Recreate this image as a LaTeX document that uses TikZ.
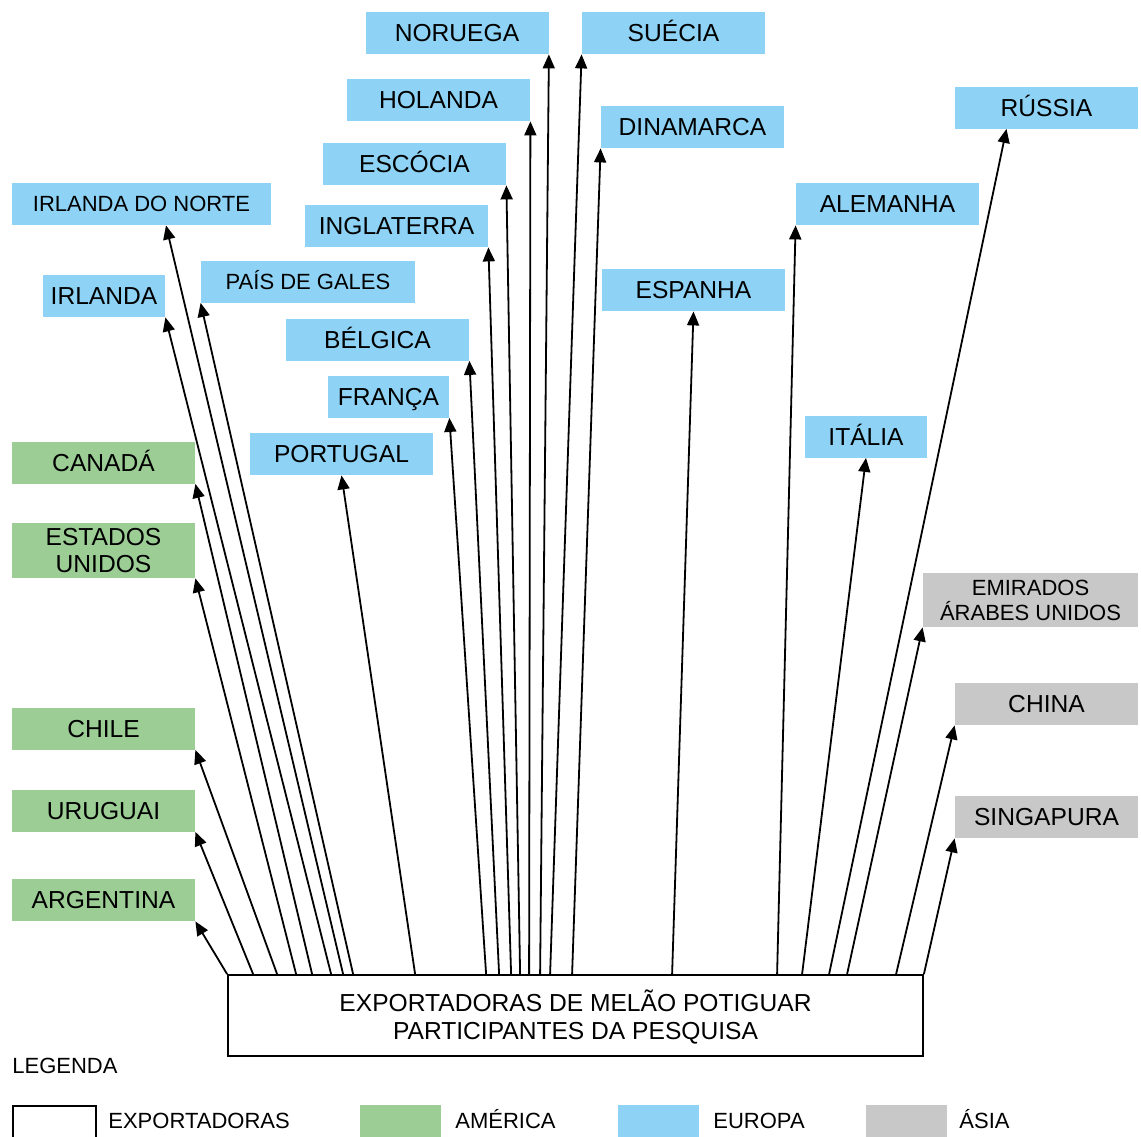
\documentclass[tikz,border=0pt]{standalone}
\usepackage{fontspec}
\setmainfont{Liberation Sans}
\usetikzlibrary{arrows.meta,calc}
\definecolor{america}{RGB}{155,205,149}
\definecolor{europa}{RGB}{142,211,245}
\definecolor{asia}{RGB}{200,200,200}
\tikzset{
  pais/.style={inner sep=0pt, minimum width=91.5pt, minimum height=21pt,
    font=\fontsize{12.3}{13.5}\selectfont, text height=8.8pt, text depth=0pt},
  ame/.style={pais, fill=america},
  eur/.style={pais, fill=europa},
  asi/.style={pais, fill=asia},
  menor/.style={font=\fontsize{11}{12.5}\selectfont, text height=7.9pt},
  duas/.style={align=center, text height={}, text depth={}},
  seta/.style={-{Triangle[length=7pt,width=6pt]}, line width=0.9pt},
  legtxt/.style={anchor=west, inner sep=0pt, font=\fontsize{11}{12}\selectfont,
    text height=7.9pt, text depth=0pt},
  legcor/.style={anchor=north west, minimum width=40.5pt, minimum height=22pt, inner sep=0pt},
}
\begin{document}
\begin{tikzpicture}[x=0.5pt,y=-0.5pt]
\useasboundingbox (0,0) rectangle (1141,1136);
% Europa
\node[eur] (nor) at (457,33) {NORUEGA};
\node[eur] (sue) at (673.5,33) {SUÉCIA};
\node[eur] (hol) at (438.5,100) {HOLANDA};
\node[eur] (din) at (692.5,127) {DINAMARCA};
\node[eur] (rus) at (1046.5,107.5) {RÚSSIA};
\node[eur] (esc) at (414.5,164) {ESCÓCIA};
\node[eur,menor,minimum width=129.5pt] (idn) at (141.5,204) {IRLANDA DO NORTE};
\node[eur] (ing) at (396.5,226) {INGLATERRA};
\node[eur] (ale) at (887.5,204) {ALEMANHA};
\node[eur,minimum width=61pt] (irl) at (104,296) {IRLANDA};
\node[eur,menor,minimum width=107pt] (pdg) at (308,281.5) {PAÍS DE GALES};
\node[eur] (esp) at (693.5,290) {ESPANHA};
\node[eur] (bel) at (377.5,339.5) {BÉLGICA};
\node[eur,minimum width=60.5pt] (fra) at (388.5,396.5) {FRANÇA};
\node[eur] (por) at (341.5,454) {PORTUGAL};
\node[eur,minimum width=61pt] (ita) at (866,436.5) {ITÁLIA};
% America
\node[ame] (can) at (103.5,462.5) {CANADÁ};
\node[ame,duas,minimum height=27.5pt] (eua) at (103.5,550.5) {ESTADOS\\UNIDOS};
\node[ame] (chi) at (103.5,728.5) {CHILE};
\node[ame] (uru) at (103.5,810.5) {URUGUAI};
\node[ame] (arg) at (103.5,900) {ARGENTINA};
% Asia
\node[asi,menor,duas,minimum width=107.5pt,minimum height=27pt] (emi) at (1030.5,600) {EMIRADOS\\ÁRABES UNIDOS};
\node[asi] (chn) at (1046.5,704) {CHINA};
\node[asi] (sin) at (1046.5,817) {SINGAPURA};
%
\node[draw,line width=0.9pt,minimum width=347.5pt,minimum height=40.5pt,align=center,
  font=\fontsize{12.3}{14}\selectfont] (base) at (575.5,1015.5)
  {\rule{0pt}{12.8pt}EXPORTADORAS DE MELÃO POTIGUAR\\PARTICIPANTES DA PESQUISA};
%
\draw[seta] ($(base.north west)+(0,0)$) -- (arg.south east);
\draw[seta] ($(base.north west)+(26,0)$) -- (uru.south east);
\draw[seta] ($(base.north west)+(50,0)$) -- (chi.south east);
\draw[seta] ($(base.north west)+(69,0)$) -- (eua.south east);
\draw[seta] ($(base.north west)+(85,0)$) -- (can.south east);
\draw[seta] ($(base.north west)+(104,0)$) -- (irl.south east);
\draw[seta] ($(base.north west)+(116,0)$) -- ($(idn.south)+(24.5,0)$);
\draw[seta] ($(base.north west)+(126,0)$) -- (pdg.south west);
\draw[seta] ($(base.north west)+(188,0)$) -- (por.south);
%
\draw[seta] ($(base.north west)+(259,0)$) -- (fra.south east);
\draw[seta] ($(base.north west)+(272,0)$) -- (bel.south east);
\draw[seta] ($(base.north west)+(284,0)$) -- (ing.south east);
\draw[seta] ($(base.north west)+(293,0)$) -- (esc.south east);
\draw[seta] ($(base.north west)+(302,0)$) -- (hol.south east);
\draw[seta] ($(base.north west)+(313,0)$) -- (nor.south east);
\draw[seta] ($(base.north west)+(323,0)$) -- (sue.south west);
\draw[seta] ($(base.north west)+(345,0)$) -- (din.south west);
%
\draw[seta] ($(base.north west)+(445,0)$) -- (esp.south);
\draw[seta] ($(base.north west)+(550,0)$) -- (ale.south west);
\draw[seta] ($(base.north west)+(575,0)$) -- (ita.south);
\draw[seta] ($(base.north west)+(602,0)$) -- ($(rus.south)+(-40,0)$);
\draw[seta] ($(base.north west)+(620,0)$) -- (emi.south west);
\draw[seta] ($(base.north west)+(669,0)$) -- (chn.south west);
\draw[seta] (base.north east) -- (sin.south west);
%
\node[legtxt] (leg) at (12,1066) {LEGENDA};
\node[legcor,draw,line width=0.9pt,minimum width=41.5pt] (kexp) at (12,1105) {};
\node[legtxt] (texp) at (108,1121) {EXPORTADORAS};
\node[legcor,fill=america] (kame) at (360,1105) {};
\node[legtxt] (tame) at (455,1121) {AMÉRICA};
\node[legcor,fill=europa] (keur) at (618,1105) {};
\node[legtxt] (teur) at (713,1121) {EUROPA};
\node[legcor,fill=asia] (kasi) at (866,1105) {};
\node[legtxt] (tasi) at (959,1121) {ÁSIA};
\end{tikzpicture}
\end{document}
